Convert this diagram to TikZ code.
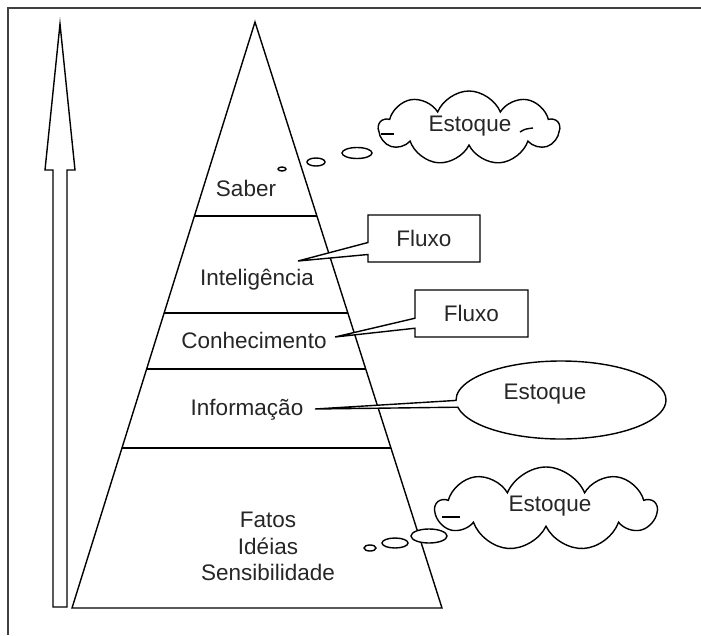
\documentclass[tikz,border=0pt]{standalone}
\usepackage{fontspec}
\setmainfont{Liberation Sans}
\usetikzlibrary{calc,shapes.geometric,shapes.symbols,shapes.callouts}
\begin{document}
\begin{tikzpicture}[x=1pt,y=-1pt,line width=1.4pt,line join=miter,
  lbl/.style={font=\fontsize{22.5}{26}\selectfont,inner sep=0,text=black!85},
  thought/.style={cloud,cloud puffs=9,cloud puff arc=135,cloud ignores aspect,draw,fill=white,inner sep=0},
  bubble/.style={ellipse,draw,fill=white,inner sep=0},
  flux/.style={rectangle callout,draw,fill=white,inner sep=0,font=\fontsize{22.5}{26}\selectfont,text=black!85}]
\useasboundingbox (0,0) rectangle (701,635);
\fill[white] (0,0) rectangle (701,635);
% frame
\draw[line width=2pt,black!75] (8,635) -- (8,8) -- (701,8);
% arrow
\draw (60,24) -- (75,170) -- (67,170) -- (67,607) -- (53,607) -- (53,170) -- (45,170) -- cycle;
% pyramid
\coordinate (apex) at (255,22);
\coordinate (bl) at (72,608);
\coordinate (br) at (442,608);
\draw (bl) -- (apex) -- (br) -- cycle;
\foreach \t in {0.331,0.4966,0.592,0.727}
  \draw ($(apex)!\t!(bl)$) -- ($(apex)!\t!(br)$);
% level texts
\node[lbl] (saber) at (246,188) {Saber};
\node[lbl] (intel) at (257,280) {Inteligência};
\node[lbl] (conh) at (254,340) {Conhecimento};
\node[lbl] (info) at (247,410) {Informação};
\node[lbl] (fatos) at (268,520) {Fatos};
\node[lbl] (ideias) at (268,546) {Idéias};
\node[lbl] (sens) at (268,572) {Sensibilidade};
% callouts
\coordinate (p1) at (298,261);
\node[flux,minimum width=112,minimum height=47,callout absolute pointer={(p1)},callout pointer width=12] (fl1) at (424,238.5) {Fluxo};
\coordinate (p2) at (335,337);
\node[flux,minimum width=113,minimum height=47,callout absolute pointer={(p2)},callout pointer width=10] (fl2) at (471.5,313.5) {Fluxo};
\coordinate (p3) at (315,409);
\node[ellipse callout,draw,fill=white,inner sep=0,minimum width=210,minimum height=78,callout absolute pointer={(p3)},callout pointer arc=10] (ell) at (561,400) {};
\node[lbl] (est2) at (545,394) {Estoque};
% thought cloud 1
\node[thought,minimum width=180,minimum height=74] (c1) at (469,128) {};
\draw (381,134) -- (394,134);
\draw (520,132) .. controls (525,129) .. (533,128);
\node[lbl] (est1) at (470,126) {Estoque};
\node[bubble,minimum width=30,minimum height=11] (b13) at (357,153) {};
\node[bubble,minimum width=18,minimum height=8] (b12) at (316,162) {};
\node[bubble,minimum width=8,minimum height=4] (b11) at (282,169) {};
% thought cloud 2
\node[thought,minimum width=220,minimum height=84] (c2) at (546,509) {};
\draw (442,517) -- (460,517);
\node[lbl] (est3) at (550,506) {Estoque};
\node[bubble,minimum width=36,minimum height=14] (b23) at (429,536) {};
\node[bubble,minimum width=26,minimum height=10] (b22) at (395,543) {};
\node[bubble,minimum width=12,minimum height=6] (b21) at (370,548) {};
\end{tikzpicture}
\end{document}
